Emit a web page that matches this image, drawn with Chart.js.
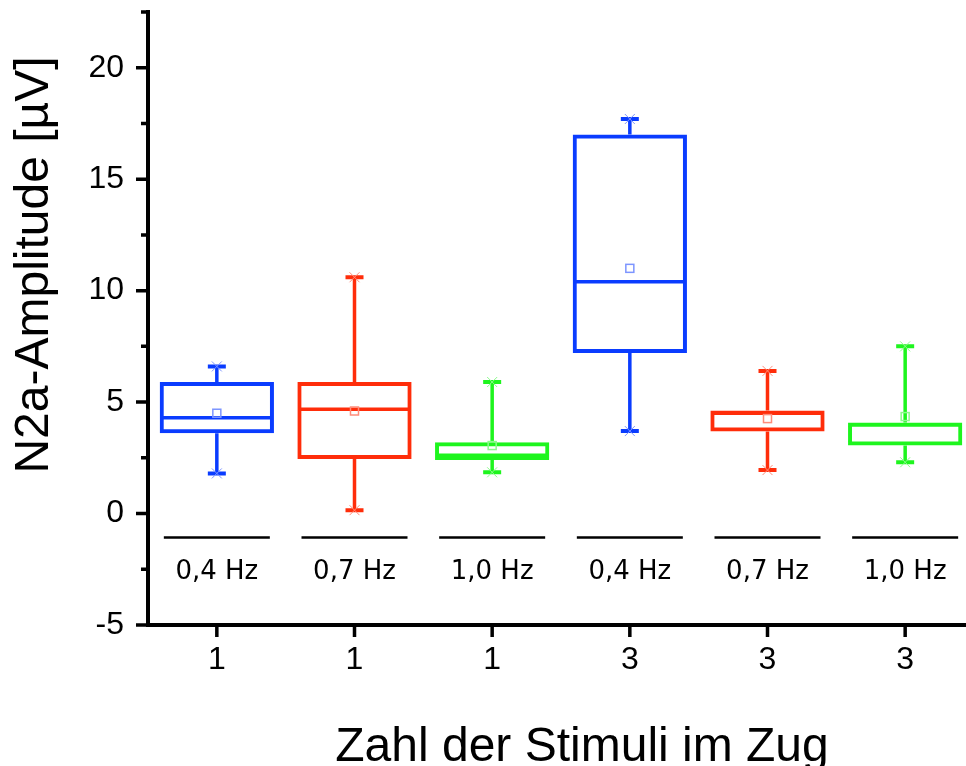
<!DOCTYPE html>
<html>
<head>
    <title>N2a-Amplitude</title>
    <script src="https://cdn.jsdelivr.net/npm/chart.js"></script>
    <style>
        body { margin: 0; overflow: hidden; background: #fff; }
        #wrap { width: 966px; height: 766px; overflow: hidden; }
    </style>
</head>
<body>
    <div id="wrap"><canvas id="chart" width="975" height="766"></canvas></div>

    <script>
        // Data
        const categories = ['1', '1', '1', '3', '3', '3'];
        const freqLabels = ['0,4 Hz', '0,7 Hz', '1,0 Hz', '0,4 Hz', '0,7 Hz', '1,0 Hz'];
        const whiskerLow = [1.8, 0.15, 1.85, 3.7, 1.95, 2.3];
        const q1 = [3.6, 2.45, 2.4, 7.2, 3.68, 3.05];
        const median = [4.3, 4.68, 2.62, 10.4, 4.5, 3.98];
        const q3 = [5.9, 5.9, 3.2, 17.0, 4.62, 4.08];
        const whiskerHigh = [6.6, 10.6, 5.9, 17.7, 6.4, 7.5];
        const means = [4.5, 4.6, 3.05, 11.0, 4.26, 4.35];

        const blue = '#0a3cff', red = '#ff2d0a', green = '#1ef51e';
        const boxColors = [blue, red, green, blue, red, green];
        const lightColors = ['#7d95ff', '#ff8c7a', '#8cfa8c', '#7d95ff', '#ff8c7a', '#8cfa8c'];

        // whiskers, medians, means, ticks, labels and axis titles
        const boxExtras = {
            id: 'boxExtras',
            afterDatasetsDraw(chart) {
                const ctx = chart.ctx;
                const x = chart.scales.x, y = chart.scales.y;
                const meta = chart.getDatasetMeta(0);
                ctx.save();
                categories.forEach((c, i) => {
                    const cx = x.getPixelForValue(i);
                    const half = meta.data[i].width / 2;
                    ctx.strokeStyle = boxColors[i];
                    // whiskers
                    ctx.lineWidth = 3.5;
                    ctx.beginPath();
                    ctx.moveTo(cx, y.getPixelForValue(q3[i]));
                    ctx.lineTo(cx, y.getPixelForValue(whiskerHigh[i]));
                    ctx.moveTo(cx, y.getPixelForValue(q1[i]));
                    ctx.lineTo(cx, y.getPixelForValue(whiskerLow[i]));
                    ctx.stroke();
                    // caps
                    ctx.lineWidth = 4;
                    ctx.beginPath();
                    [whiskerHigh[i], whiskerLow[i]].forEach(v => {
                        const py = y.getPixelForValue(v);
                        ctx.moveTo(cx - 9, py);
                        ctx.lineTo(cx + 9, py);
                    });
                    ctx.stroke();
                    // median
                    ctx.lineWidth = 3.5;
                    ctx.beginPath();
                    const my = y.getPixelForValue(median[i]);
                    ctx.moveTo(cx - half + 2, my);
                    ctx.lineTo(cx + half - 2, my);
                    ctx.stroke();
                    // x markers at whisker ends
                    ctx.strokeStyle = lightColors[i];
                    ctx.lineWidth = 1;
                    ctx.beginPath();
                    [whiskerHigh[i], whiskerLow[i]].forEach(v => {
                        const py = y.getPixelForValue(v);
                        ctx.moveTo(cx - 5, py - 5); ctx.lineTo(cx + 5, py + 5);
                        ctx.moveTo(cx - 5, py + 5); ctx.lineTo(cx + 5, py - 5);
                    });
                    ctx.stroke();
                    // mean
                    ctx.lineWidth = 1.5;
                    const mp = y.getPixelForValue(means[i]);
                    ctx.strokeRect(cx - 4, mp - 4, 8, 8);
                });
                ctx.restore();
            },
            afterDraw(chart) {
                const ctx = chart.ctx;
                const x = chart.scales.x, y = chart.scales.y;
                const area = chart.chartArea;
                ctx.save();
                ctx.strokeStyle = '#000';
                ctx.fillStyle = '#000';
                // y ticks (major and minor)
                ctx.lineWidth = 3.5;
                ctx.beginPath();
                y.ticks.forEach(t => {
                    const py = y.getPixelForValue(t.value);
                    const len = t.value % 5 === 0 ? 12 : 7;
                    ctx.moveTo(area.left - len, py);
                    ctx.lineTo(area.left, py);
                });
                // x ticks
                categories.forEach((c, i) => {
                    const px = x.getPixelForValue(i);
                    ctx.moveTo(px, area.bottom);
                    ctx.lineTo(px, area.bottom + 12);
                });
                ctx.stroke();
                // frequency labels inside the plot
                ctx.lineWidth = 2.5;
                ctx.font = '26px "DejaVu Sans"';
                ctx.textAlign = 'center';
                ctx.textBaseline = 'alphabetic';
                freqLabels.forEach((lab, i) => {
                    const px = x.getPixelForValue(i);
                    const ly = y.getPixelForValue(-1.08);
                    ctx.beginPath();
                    ctx.moveTo(px - 53, ly);
                    ctx.lineTo(px + 53, ly);
                    ctx.stroke();
                    ctx.fillText(lab, px, y.getPixelForValue(-2.92));
                });
                // axis titles
                ctx.font = '48px "Liberation Sans", Arial, sans-serif';
                ctx.fillText('Zahl der Stimuli im Zug', 582, 761);
                ctx.translate(48, 265);
                ctx.rotate(-Math.PI / 2);
                ctx.fillText('N2a-Amplitude [µV]', 0, 0);
                ctx.restore();
            }
        };

        const boxData = q1.map((v, i) => [v, q3[i]]);
        const tickFont = { family: '"Liberation Sans", Arial, sans-serif', size: 32 };

        const chart = new Chart(document.getElementById('chart'), {
            type: 'bar',
            data: {
                labels: categories,
                datasets: [{
                    data: boxData,
                    backgroundColor: 'rgba(0,0,0,0)',
                    borderColor: boxColors,
                    borderWidth: 4,
                    borderSkipped: false,
                    barPercentage: 0.83,
                    categoryPercentage: 1
                }]
            },
            options: {
                responsive: false,
                animation: false,
                devicePixelRatio: 1,
                layout: { padding: { top: 12, right: 1, left: 0, bottom: 0 } },
                plugins: {
                    legend: { display: false },
                    tooltip: { enabled: false }
                },
                scales: {
                    x: {
                        offset: true,
                        grid: { display: false, drawTicks: false },
                        border: { display: true, color: '#000', width: 4 },
                        ticks: { color: '#000', padding: 16, font: tickFont },
                        afterFit(scale) {
                            scale.height = 141;
                            scale.paddingLeft = 0;
                            scale.paddingRight = 0;
                        }
                    },
                    y: {
                        min: -5,
                        max: 22.5,
                        grid: { display: false, drawTicks: false },
                        border: { display: true, color: '#000', width: 4 },
                        ticks: {
                            stepSize: 2.5,
                            autoSkip: false,
                            color: '#000',
                            padding: 24,
                            font: tickFont,
                            callback: v => (v % 5 === 0 ? v : '')
                        },
                        afterFit(scale) {
                            scale.width = 148;
                            scale.paddingTop = 0;
                            scale.paddingBottom = 0;
                        }
                    }
                }
            },
            plugins: [boxExtras]
        });
    </script>
</body>
</html>
